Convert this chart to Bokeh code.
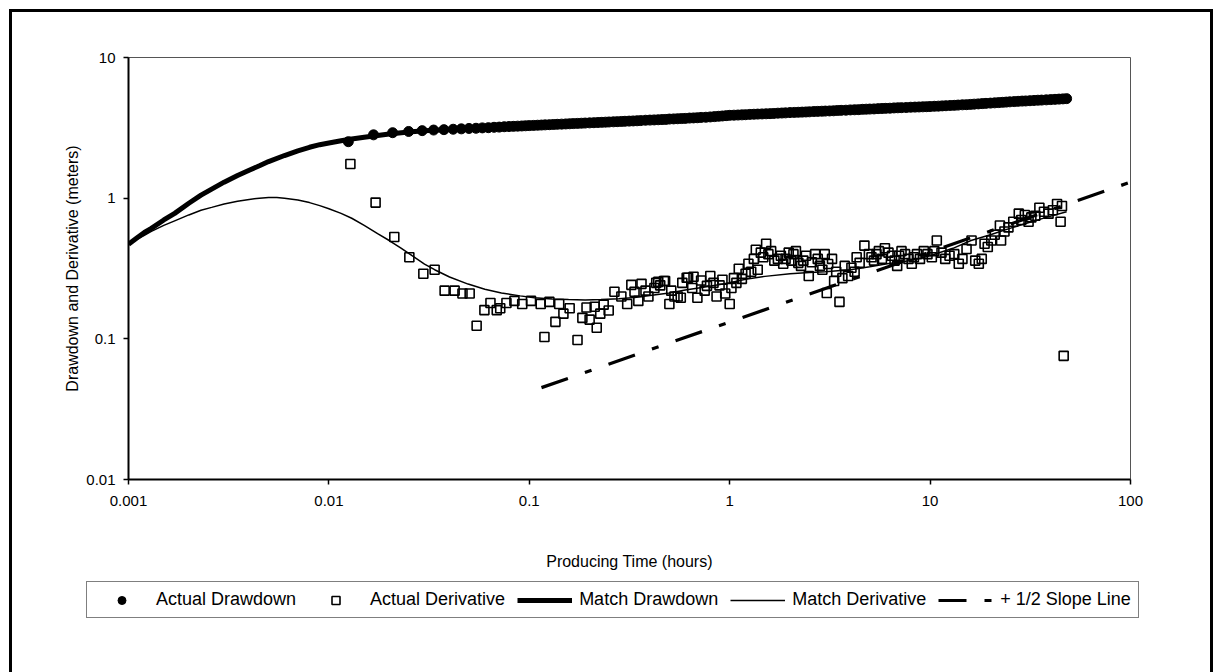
from bokeh.plotting import figure
from bokeh.models import Legend, LegendItem, FixedTicker, CustomJSTickFormatter, Range1d
from bokeh.embed import file_html
from bokeh.resources import INLINE

# ---------------- data ----------------
dd_time = [0.0125, 0.0167, 0.0208, 0.025, 0.0292, 0.0333, 0.0375, 0.0417, 0.0458, 0.05,
           0.0542, 0.0583, 0.0625, 0.0667, 0.0708, 0.075, 0.0792, 0.0833, 0.0875, 0.0917,
           0.0958, 0.1, 0.105, 0.11, 0.115, 0.12, 0.126, 0.132, 0.138, 0.145,
           0.152, 0.159, 0.166, 0.174, 0.182, 0.19, 0.2, 0.21, 0.22, 0.23,
           0.24, 0.25, 0.263, 0.275, 0.288, 0.3, 0.315, 0.33, 0.345, 0.36,
           0.38, 0.4, 0.42, 0.44, 0.46, 0.48, 0.5, 0.525, 0.55, 0.575,
           0.6, 0.63, 0.66, 0.69, 0.72, 0.76, 0.8, 0.84, 0.88, 0.92,
           0.96, 1.0, 1.05, 1.1, 1.15, 1.2, 1.26, 1.32, 1.38, 1.45,
           1.52, 1.59, 1.66, 1.74, 1.82, 1.9, 2.0, 2.1, 2.2, 2.3,
           2.4, 2.5, 2.63, 2.75, 2.88, 3.0, 3.15, 3.3, 3.45, 3.6,
           3.8, 4.0, 4.2, 4.4, 4.6, 4.8, 5.0, 5.25, 5.5, 5.75,
           6.0, 6.3, 6.6, 6.9, 7.2, 7.6, 8.0, 8.4, 8.8, 9.2,
           9.6, 10, 10.5, 11, 11.5, 12, 12.6, 13.2, 13.8, 14.5,
           15.2, 15.9, 16.6, 17.4, 18.2, 19, 20, 21, 22, 23,
           24, 25, 26.3, 27.5, 28.8, 30, 31.5, 33, 34.5, 36,
           38, 40, 42, 44, 46, 48]
dd_value = [2.52, 2.82, 2.92, 2.98, 3.02, 3.05, 3.07, 3.09, 3.11, 3.13,
            3.14, 3.16, 3.17, 3.19, 3.20, 3.22, 3.23, 3.24, 3.25, 3.26,
            3.27, 3.28, 3.29, 3.30, 3.31, 3.32, 3.33, 3.34, 3.35, 3.36,
            3.37, 3.38, 3.39, 3.40, 3.41, 3.42, 3.43, 3.44, 3.45, 3.46,
            3.47, 3.48, 3.49, 3.50, 3.51, 3.52, 3.53, 3.54, 3.55, 3.56,
            3.58, 3.59, 3.60, 3.61, 3.62, 3.63, 3.65, 3.66, 3.67, 3.68,
            3.69, 3.71, 3.72, 3.73, 3.75, 3.76, 3.78, 3.80, 3.82, 3.84,
            3.86, 3.88, 3.89, 3.90, 3.91, 3.92, 3.94, 3.95, 3.96, 3.97,
            3.98, 3.99, 4.00, 4.02, 4.03, 4.04, 4.06, 4.07, 4.08, 4.09,
            4.10, 4.11, 4.13, 4.14, 4.15, 4.16, 4.17, 4.18, 4.20, 4.21,
            4.22, 4.24, 4.25, 4.26, 4.28, 4.29, 4.30, 4.31, 4.33, 4.34,
            4.35, 4.36, 4.38, 4.39, 4.40, 4.41, 4.43, 4.44, 4.45, 4.46,
            4.47, 4.48, 4.50, 4.51, 4.53, 4.54, 4.56, 4.57, 4.59, 4.61,
            4.62, 4.64, 4.66, 4.68, 4.70, 4.72, 4.74, 4.76, 4.78, 4.80,
            4.82, 4.84, 4.86, 4.88, 4.90, 4.91, 4.93, 4.95, 4.97, 4.98,
            5.00, 5.02, 5.04, 5.06, 5.08, 5.10]

deriv_time = [0.0128, 0.0171, 0.0212, 0.0252, 0.0296, 0.0337, 0.0378, 0.0424, 0.0464, 0.0504,
              0.0546, 0.0597, 0.064, 0.0688, 0.0716, 0.0769, 0.0843, 0.0922, 0.102, 0.114,
              0.119, 0.126, 0.135, 0.141, 0.148, 0.159, 0.174, 0.184, 0.193, 0.2,
              0.212, 0.217, 0.226, 0.235, 0.249, 0.266, 0.288, 0.308, 0.323, 0.335,
              0.35, 0.363, 0.393, 0.421, 0.43, 0.44, 0.47, 0.476, 0.5, 0.511,
              0.53, 0.55, 0.57, 0.61, 0.62, 0.66, 0.69, 0.77, 0.8, 0.86,
              0.92, 1.0, 1.02, 1.11, 1.15, 1.24, 1.32, 1.38, 1.43, 1.52,
              1.61, 1.74, 1.85, 1.97, 2.08, 2.2, 2.33, 2.48, 2.67, 2.82,
              2.98, 3.05, 3.24, 3.32, 3.53, 3.75, 3.9, 4.2, 4.45, 4.7,
              4.95, 5.25, 5.55, 5.95, 6.45, 6.85, 7.2, 7.8, 8.1, 8.6,
              9.3, 10.2, 10.8, 11.4, 12.5, 13.9, 15.2, 16.1, 17.5, 18.1,
              18.7, 20.2, 22.3, 22.6, 24.6, 27.7, 29.7, 32, 35.1, 39,
              43, 44.8, 46.4, 0.38, 0.45, 0.58, 0.65, 0.72, 0.75, 0.83,
              0.89, 0.95, 1.05, 1.08, 1.2, 1.28, 1.35, 1.47, 1.56, 1.67,
              1.8, 1.9, 2.03, 2.14, 2.27, 2.4, 2.57, 2.75, 2.9, 3.1,
              3.4, 3.65, 4.05, 4.3, 5.1, 5.4, 5.75, 6.2, 6.65, 7.0,
              7.5, 8.3, 8.9, 9.7, 10.5, 11.9, 13.2, 14.5, 16.8, 19.4,
              21, 23.5, 26, 28.5, 31, 33.5, 37, 41, 45.5]
deriv_value = [1.75, 0.93, 0.53, 0.38, 0.29, 0.31, 0.22, 0.22, 0.21, 0.21,
               0.124, 0.16, 0.18, 0.16, 0.165, 0.18, 0.186, 0.177, 0.186, 0.177,
               0.103, 0.183, 0.132, 0.177, 0.151, 0.165, 0.098, 0.141, 0.167, 0.137,
               0.169, 0.12, 0.151, 0.175, 0.159, 0.216, 0.2, 0.177, 0.242, 0.216,
               0.186, 0.246, 0.2, 0.23, 0.25, 0.254, 0.258, 0.258, 0.177, 0.22,
               0.2, 0.2, 0.196, 0.272, 0.272, 0.276, 0.196, 0.238, 0.28, 0.2,
               0.263, 0.177, 0.23, 0.315, 0.267, 0.342, 0.37, 0.31, 0.41, 0.474,
               0.42, 0.37, 0.342, 0.41, 0.4, 0.347, 0.36, 0.28, 0.4, 0.33,
               0.4, 0.212, 0.37, 0.258, 0.183, 0.33, 0.28, 0.3, 0.347, 0.46,
               0.4, 0.36, 0.42, 0.44, 0.39, 0.33, 0.42, 0.37, 0.342, 0.4,
               0.42, 0.38, 0.5, 0.41, 0.39, 0.342, 0.435, 0.5, 0.342, 0.37,
               0.474, 0.5, 0.64, 0.5, 0.62, 0.776, 0.76, 0.73, 0.855, 0.776,
               0.91, 0.68, 0.0757, 0.22, 0.24, 0.25, 0.23, 0.26, 0.22, 0.25,
               0.24, 0.21, 0.27, 0.25, 0.29, 0.3, 0.43, 0.38, 0.4, 0.36,
               0.39, 0.37, 0.36, 0.42, 0.33, 0.39, 0.35, 0.37, 0.31, 0.34,
               0.3, 0.27, 0.32, 0.38, 0.38, 0.4, 0.37, 0.41, 0.36, 0.39,
               0.4, 0.38, 0.37, 0.4, 0.42, 0.37, 0.4, 0.37, 0.36, 0.45,
               0.55, 0.58, 0.68, 0.7, 0.68, 0.75, 0.8, 0.82, 0.88]

match_dd_time = [0.001, 0.0011, 0.0012, 0.0013, 0.0015, 0.0017, 0.002, 0.0023, 0.0026, 0.003,
                 0.0035, 0.004, 0.0045, 0.005, 0.006, 0.007, 0.008, 0.009, 0.01, 0.0115,
                 0.013, 0.015, 0.0175, 0.02, 0.025, 0.03, 0.05, 0.1, 0.2, 0.5,
                 1, 2, 5, 10, 20, 48]
match_dd_value = [0.47, 0.52, 0.57, 0.61, 0.70, 0.78, 0.92, 1.05, 1.16, 1.30,
                  1.45, 1.58, 1.70, 1.82, 2.01, 2.17, 2.30, 2.40, 2.47, 2.56,
                  2.63, 2.71, 2.79, 2.86, 2.95, 3.01, 3.13, 3.28, 3.43, 3.65,
                  3.88, 4.06, 4.30, 4.48, 4.74, 5.10]

match_der_time = [0.001, 0.0011, 0.0012, 0.0013, 0.0015, 0.0017, 0.002, 0.0023, 0.0026, 0.003,
                  0.0035, 0.004, 0.0045, 0.005, 0.0055, 0.006, 0.007, 0.008, 0.009, 0.01,
                  0.0115, 0.013, 0.015, 0.0175, 0.02, 0.023, 0.026, 0.03, 0.0337, 0.04,
                  0.0495, 0.06, 0.0726, 0.09, 0.106, 0.13, 0.157, 0.19, 0.228, 0.28,
                  0.335, 0.4, 0.5, 0.6, 0.7, 0.85, 1.0, 1.2, 1.5, 2,
                  2.5, 3, 4, 5, 6, 8, 10, 13, 16, 20,
                  25, 30, 38, 48]
match_der_value = [0.47, 0.51, 0.545, 0.58, 0.64, 0.69, 0.76, 0.82, 0.86, 0.91,
                   0.95, 0.98, 1.0, 1.01, 1.01, 1.0, 0.97, 0.93, 0.885, 0.84,
                   0.78, 0.72, 0.64, 0.56, 0.50, 0.44, 0.39, 0.34, 0.31, 0.275,
                   0.245, 0.225, 0.212, 0.202, 0.196, 0.192, 0.19, 0.189, 0.19, 0.193,
                   0.197, 0.203, 0.212, 0.222, 0.23, 0.24, 0.25, 0.265, 0.278, 0.29,
                   0.296, 0.30, 0.31, 0.325, 0.34, 0.36, 0.39, 0.44, 0.50, 0.55,
                   0.61, 0.66, 0.73, 0.80]

slope_time = [0.115, 100]
slope_value = [0.045, 1.3]

x_ticks = [0.001, 0.01, 0.1, 1, 10, 100]
y_ticks = [0.01, 0.1, 1, 10]

legend_labels = ["Actual Drawdown", "Actual Derivative", "Match Drawdown",
                 "Match Derivative", "+ 1/2 Slope Line"]

FONT = "Liberation Sans"

# ---------------- main plot ----------------
p = figure(width=1215, height=578, x_axis_type="log", y_axis_type="log",
           x_range=Range1d(0.001, 100), y_range=Range1d(0.01, 10),
           output_backend="svg", toolbar_location=None,
           min_border_left=128, min_border_right=85, min_border_top=57, min_border_bottom=99,
           background_fill_color="white", border_fill_alpha=0)
p.grid.visible = False
p.outline_line_color = "#555555"
p.outline_line_width = 1

fmt = CustomJSTickFormatter(code="return tick.toString();")
p.xaxis.ticker = FixedTicker(ticks=x_ticks)
p.yaxis.ticker = FixedTicker(ticks=y_ticks)
for ax in (p.xaxis[0], p.yaxis[0]):
    ax.formatter = fmt
    ax.axis_line_width = 2
    ax.axis_line_color = "black"
    ax.major_tick_line_width = 1.5
    ax.major_tick_line_color = "black"
    ax.major_tick_out = 5
    ax.major_tick_in = 0
    ax.minor_tick_out = 0
    ax.minor_tick_in = 0
    ax.major_label_text_font = FONT
    ax.major_label_text_font_size = "15px"
    ax.major_label_text_color = "black"
    ax.axis_label_text_font = FONT
    ax.axis_label_text_font_size = "16px"
    ax.axis_label_text_font_style = "normal"
    ax.axis_label_text_color = "black"

p.xaxis.axis_label = "Producing Time (hours)"
p.yaxis.axis_label = "Drawdown and Derivative (meters)"
p.xaxis.major_label_standoff = 11
p.yaxis.major_label_standoff = 8
p.xaxis.axis_label_standoff = 44
p.yaxis.axis_label_standoff = 2

dd_style = dict(marker="circle", size=10, fill_color="black", line_color="black")
der_style = dict(marker="square", size=9, fill_color="white", fill_alpha=0.0,
                 line_color="black", line_width=1.6)
mdd_style = dict(line_color="black", line_width=5)
mder_style = dict(line_color="black", line_width=1.5)
slope_style = dict(line_color="black", line_width=3.2, line_dash="28 18 7 18")

p.line(match_dd_time, match_dd_value, **mdd_style)
p.scatter(dd_time, dd_value, **dd_style)
p.scatter(deriv_time, deriv_value, **der_style)
p.line(match_der_time, match_der_value, **mder_style)
p.line(slope_time, slope_value, **slope_style)

p.styles = {"box-shadow": "inset 9px 9px 0 0 white, inset -2px 0 0 0 white, "
                          "inset 12px 12px 0 0 black, inset -5px 0 0 0 black"}

# ---------------- legend strip (separate root, full-width frame) ----------------
p2 = figure(width=1215, height=94, x_range=Range1d(0, 1), y_range=Range1d(0, 1),
            output_backend="svg", toolbar_location=None, min_border=0,
            x_axis_location=None, y_axis_location=None,
            background_fill_alpha=0, border_fill_alpha=0)
p2.grid.visible = False
p2.outline_line_color = None

# legend-key samples placed outside the visible range of the strip
key_x = [-5, -4]
key_y = [-5, -4]
g_dd = p2.scatter(key_x, key_y, **dd_style)
g_der = p2.scatter(key_x, key_y, **der_style)
g_mdd = p2.line(key_x, key_y, **mdd_style)
g_mder = p2.line(key_x, key_y, **mder_style)
g_slope = p2.line(key_x, key_y, **slope_style)

legend = Legend(items=[LegendItem(label=lab, renderers=[r]) for lab, r in
                       zip(legend_labels, [g_dd, g_der, g_mdd, g_mder, g_slope])],
                orientation="horizontal", location=(86, 54))
legend.label_text_font = FONT
legend.label_text_font_size = "18px"
legend.label_text_color = "black"
legend.glyph_width = 55
legend.glyph_height = 20
legend.label_standoff = 7
legend.spacing = 12
legend.padding = 7
legend.margin = 0
legend.border_line_color = "black"
legend.border_line_width = 1.5
legend.background_fill_color = "white"
legend.background_fill_alpha = 1.0
p2.add_layout(legend, "center")

p2.styles = {"box-shadow": "inset 9px 0 0 0 white, inset -2px 0 0 0 white, "
                           "inset 12px 0 0 0 black, inset -5px 0 0 0 black"}

open("out.html", "w").write(file_html([p, p2], INLINE))
